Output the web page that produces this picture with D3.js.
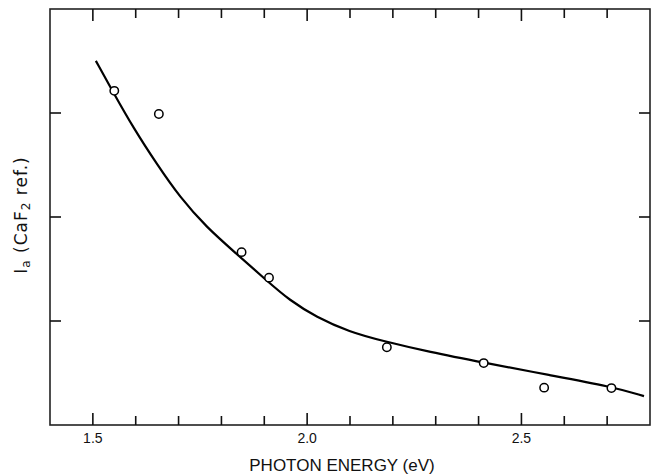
<!DOCTYPE html>
<html>
<head>
<meta charset="utf-8">
<title>Ia vs photon energy</title>
<style>
body { margin: 0; background: #fff; }
svg { display: block; }
</style>
<script src="https://d3js.org/d3.v7.min.js"></script>
</head>
<body>
<div id="chart"></div>
<script>

// measured points (photon energy eV, Ia arbitrary units)
var pointEnergy = [1.550, 1.654, 1.847, 1.911, 2.186, 2.412, 2.553, 2.710];
var pointIa     = [3.213, 2.990, 1.662, 1.417, 0.748, 0.595, 0.359, 0.355];

// fitted curve
var curveEnergy = [1.507, 1.549, 1.594, 1.649, 1.703, 1.765, 1.835, 1.905, 1.959, 2.021, 2.099, 2.176, 2.285, 2.412, 2.565, 2.710, 2.786];
var curveIa     = [3.501, 3.188, 2.861, 2.510, 2.190, 1.902, 1.647, 1.391, 1.199, 1.039, 0.895, 0.809, 0.703, 0.600, 0.480, 0.369, 0.278];

var majorTicks = [1.5, 2.0, 2.5];
var minorTicks = [1.6, 1.7, 1.8, 1.9, 2.1, 2.2, 2.3, 2.4, 2.6, 2.7];
var tickLabels = ["1.5", "2.0", "2.5"];
var yTicks = [1, 2, 3];

(function() {
var width = 653, height = 474;
var mLeft = 50, mRight = 650, mTop = 9, mBottom = 425;
var font = "Liberation Sans, Arial, sans-serif";
var ink = "#111";

var svg = d3.select("#chart").append("svg")
    .attr("width", width)
    .attr("height", height);

var x = d3.scaleLinear().domain([1.4, 2.8]).range([mLeft, mRight]);
var y = d3.scaleLinear().domain([0, 4]).range([mBottom, mTop]);

// frame
svg.append("rect")
    .attr("x", mLeft).attr("y", mTop)
    .attr("width", mRight - mLeft).attr("height", mBottom - mTop)
    .attr("fill", "none").attr("stroke", "#222").attr("stroke-width", 1.6);

// x ticks, inward, bottom and top
var xt = majorTicks.map(function(v) { return {v: v, len: 12}; })
    .concat(minorTicks.map(function(v) { return {v: v, len: 9}; }));
var ticks = svg.append("g").attr("stroke", ink).attr("stroke-width", 1.6);
ticks.selectAll("line.xb").data(xt).enter().append("line")
    .attr("x1", function(d) { return x(d.v); }).attr("x2", function(d) { return x(d.v); })
    .attr("y1", mBottom).attr("y2", function(d) { return mBottom - d.len; });
ticks.selectAll("line.xt").data(xt).enter().append("line")
    .attr("x1", function(d) { return x(d.v); }).attr("x2", function(d) { return x(d.v); })
    .attr("y1", mTop).attr("y2", function(d) { return mTop + d.len; });

// y ticks, inward, left and right, no labels
ticks.selectAll("line.yl").data(yTicks).enter().append("line")
    .attr("x1", mLeft).attr("x2", mLeft + 11)
    .attr("y1", function(d) { return y(d); }).attr("y2", function(d) { return y(d); });
ticks.selectAll("line.yr").data(yTicks).enter().append("line")
    .attr("x1", mRight).attr("x2", mRight - 11)
    .attr("y1", function(d) { return y(d); }).attr("y2", function(d) { return y(d); });

// tick labels
svg.append("g").selectAll("text").data(majorTicks).enter().append("text")
    .attr("x", function(d) { return x(d); })
    .attr("y", 443)
    .attr("text-anchor", "middle")
    .attr("font-family", font).attr("font-size", 14).attr("fill", ink)
    .text(function(d, i) { return tickLabels[i]; });

// curve
var curveData = curveEnergy.map(function(e, i) { return [e, curveIa[i]]; });
var line = d3.line()
    .x(function(d) { return x(d[0]); })
    .y(function(d) { return y(d[1]); })
    .curve(d3.curveBasis);
svg.append("path").datum(curveData)
    .attr("d", line)
    .attr("fill", "none").attr("stroke", "#000").attr("stroke-width", 2.2);

// points
svg.selectAll("circle.pt")
  .data(pointEnergy)
  .enter().append("circle")
    .attr("class", "pt")
    .attr("cx", function(d) { return x(d); })
    .attr("cy", function(d, i) { return y(pointIa[i]); })
    .attr("r", 4.2)
    .attr("fill", "#fff").attr("stroke", "#000").attr("stroke-width", 1.5);

// axis titles
svg.append("text")
    .attr("x", 342).attr("y", 471)
    .attr("text-anchor", "middle")
    .attr("font-family", font)
    .attr("font-size", 17).attr("fill", ink)
    .text("PHOTON ENERGY (eV)");

var yl = svg.append("text")
    .attr("transform", "translate(27,215) rotate(-90)")
    .attr("text-anchor", "middle")
    .attr("font-family", "DejaVu Sans, sans-serif")
    .attr("letter-spacing", 1)
    .attr("font-size", 17).attr("fill", ink);
yl.append("tspan").text("I");
yl.append("tspan").attr("font-size", 12).attr("dy", 3).text("a");
yl.append("tspan").attr("dy", -3).text("  (CaF");
yl.append("tspan").attr("font-size", 12).attr("dy", 3).text("2");
yl.append("tspan").attr("dy", -3).text(" ref.)");
})();

</script>
</body>
</html>
